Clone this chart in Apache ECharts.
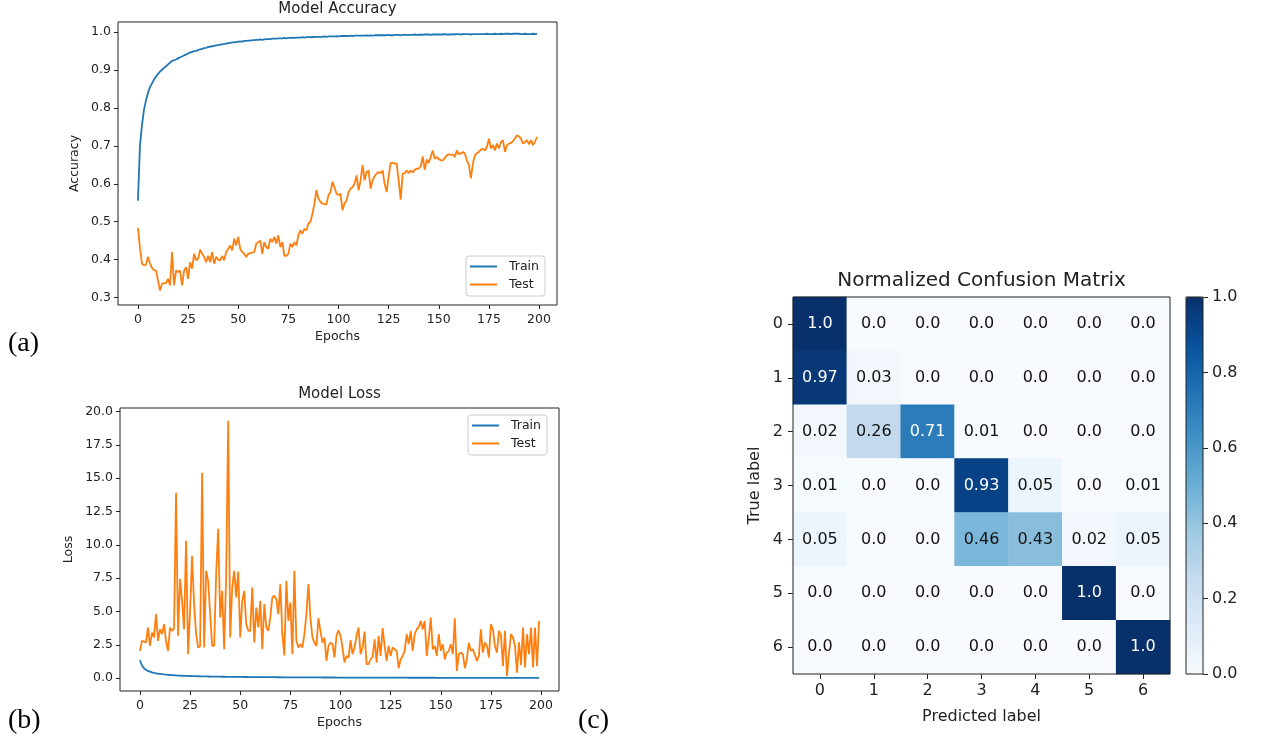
<!DOCTYPE html>
<html>
<head>
<meta charset="utf-8">
<script src="https://cdn.jsdelivr.net/npm/echarts@6/dist/echarts.min.js"></script>
<style>
  html, body { margin: 0; padding: 0; background: #fff; }
  #chart { width: 1271px; height: 748px; }
</style>
</head>
<body>
<div id="chart"></div>
<script>
// ---- training history (one value per epoch, 0..199) ----
const accTrain = [
  0.555,0.70,0.755,0.795,0.82,0.84,0.855,0.865,0.875,0.883,
  0.89,0.896,0.901,0.906,0.91,0.915,0.92,0.924,0.926,0.928,
  0.931,0.934,0.936,0.939,0.941,0.944,0.946,0.948,0.95,0.951,
  0.953,0.955,0.956,0.958,0.959,0.961,0.962,0.963,0.964,0.965,
  0.966,0.967,0.968,0.969,0.97,0.971,0.972,0.973,0.973,0.974,
  0.975,0.976,0.975,0.977,0.977,0.978,0.978,0.979,0.979,0.98,
  0.98,0.981,0.98,0.981,0.982,0.982,0.982,0.983,0.983,0.983,
  0.984,0.984,0.984,0.985,0.984,0.985,0.985,0.986,0.985,0.986,
  0.986,0.986,0.987,0.986,0.987,0.987,0.987,0.988,0.987,0.988,
  0.988,0.988,0.988,0.989,0.988,0.989,0.989,0.989,0.989,0.99,
  0.989,0.99,0.99,0.99,0.99,0.99,0.991,0.99,0.991,0.991,
  0.991,0.991,0.991,0.991,0.992,0.991,0.992,0.991,0.992,0.992,
  0.992,0.992,0.992,0.992,0.992,0.993,0.992,0.992,0.993,0.993,
  0.993,0.992,0.993,0.993,0.993,0.993,0.993,0.993,0.994,0.993,
  0.993,0.994,0.993,0.994,0.994,0.994,0.993,0.994,0.994,0.994,
  0.994,0.994,0.994,0.995,0.994,0.994,0.994,0.995,0.994,0.995,
  0.995,0.994,0.995,0.995,0.995,0.995,0.994,0.995,0.995,0.995,
  0.995,0.995,0.995,0.995,0.996,0.995,0.995,0.995,0.996,0.995,
  0.995,0.996,0.995,0.996,0.996,0.996,0.995,0.996,0.996,0.996,
  0.996,0.995,0.995,0.996,0.995,0.995,0.995,0.996,0.995,0.996
];
const accTest = [
  0.484,0.43,0.39,0.385,0.386,0.407,0.39,0.378,0.372,0.371,
  0.345,0.318,0.336,0.338,0.338,0.349,0.332,0.42,0.332,0.371,
  0.367,0.371,0.332,0.371,0.38,0.349,0.393,0.376,0.415,0.398,
  0.402,0.426,0.415,0.407,0.393,0.41,0.393,0.42,0.389,0.407,
  0.4,0.398,0.41,0.398,0.42,0.428,0.437,0.424,0.455,0.437,
  0.46,0.428,0.42,0.415,0.407,0.415,0.417,0.418,0.42,0.442,
  0.446,0.45,0.415,0.446,0.433,0.428,0.455,0.446,0.46,0.442,
  0.464,0.433,0.446,0.41,0.41,0.415,0.442,0.433,0.446,0.437,
  0.464,0.477,0.468,0.481,0.477,0.495,0.499,0.521,0.547,0.583,
  0.561,0.552,0.548,0.546,0.546,0.57,0.578,0.605,0.59,0.574,
  0.57,0.574,0.53,0.548,0.556,0.578,0.587,0.591,0.6,0.622,
  0.583,0.609,0.649,0.609,0.631,0.635,0.587,0.609,0.62,0.627,
  0.631,0.628,0.635,0.6,0.578,0.618,0.655,0.655,0.653,0.653,
  0.609,0.558,0.627,0.628,0.635,0.628,0.635,0.63,0.637,0.64,
  0.64,0.646,0.672,0.637,0.664,0.655,0.671,0.688,0.666,0.671,
  0.665,0.662,0.662,0.668,0.675,0.678,0.676,0.678,0.671,0.688,
  0.678,0.68,0.684,0.68,0.662,0.65,0.614,0.653,0.675,0.681,
  0.684,0.69,0.693,0.688,0.697,0.719,0.693,0.702,0.688,0.706,
  0.693,0.71,0.715,0.684,0.702,0.706,0.708,0.712,0.72,0.728,
  0.725,0.719,0.706,0.71,0.715,0.704,0.715,0.702,0.712,0.724
];
const lossTrain = [
  1.35,0.95,0.75,0.63,0.55,0.49,0.44,0.40,0.37,0.34,
  0.32,0.30,0.28,0.27,0.25,0.24,0.23,0.22,0.21,0.20,
  0.19,0.185,0.18,0.175,0.17,0.165,0.16,0.155,0.15,0.145,
  0.14,0.138,0.135,0.13,0.128,0.125,0.122,0.12,0.118,0.115,
  0.113,0.11,0.108,0.106,0.104,0.102,0.1,0.098,0.096,0.095,
  0.093,0.092,0.09,0.089,0.087,0.086,0.085,0.083,0.082,0.081,
  0.08,0.079,0.078,0.077,0.076,0.075,0.074,0.073,0.072,0.071,
  0.07,0.069,0.068,0.067,0.066,0.066,0.065,0.064,0.063,0.063,
  0.062,0.061,0.06,0.06,0.059,0.058,0.058,0.057,0.056,0.056,
  0.055,0.054,0.054,0.053,0.053,0.052,0.051,0.051,0.05,0.05,
  0.049,0.049,0.048,0.048,0.047,0.047,0.046,0.046,0.045,0.045,
  0.044,0.044,0.043,0.043,0.043,0.042,0.042,0.041,0.041,0.041,
  0.04,0.04,0.04,0.039,0.039,0.038,0.038,0.038,0.037,0.037,
  0.037,0.036,0.036,0.036,0.035,0.035,0.035,0.034,0.034,0.034,
  0.034,0.033,0.033,0.033,0.032,0.032,0.032,0.032,0.031,0.031,
  0.031,0.031,0.03,0.03,0.03,0.03,0.029,0.029,0.029,0.029,
  0.028,0.028,0.028,0.028,0.028,0.027,0.027,0.027,0.027,0.026,
  0.026,0.026,0.026,0.026,0.025,0.025,0.025,0.025,0.025,0.024,
  0.024,0.024,0.024,0.024,0.024,0.023,0.023,0.023,0.023,0.023,
  0.022,0.022,0.022,0.022,0.022,0.022,0.021,0.021,0.021,0.021
];
const lossTest = [
  2.05,2.8,2.75,2.67,3.8,2.42,3.42,3.05,4.8,2.8,
  3.67,3.3,4.05,2.8,2.05,3.8,3.55,3.72,13.9,3.18,
  7.43,5.8,3.68,10.3,1.8,5.05,9.18,5.55,3.3,2.3,
  2.42,15.4,2.3,8.05,7.3,4.8,2.42,2.42,7.8,11.2,
  4.55,6.55,2.18,7.8,19.3,3.05,6.8,8.05,6.05,8.0,
  3.05,5.8,6.55,4.05,3.55,3.55,6.8,2.67,5.3,3.8,
  5.8,2.18,5.55,3.8,3.55,4.55,6.05,6.18,5.92,4.8,
  7.05,3.3,1.7,7.3,4.3,5.67,1.8,8.05,2.8,2.3,
  2.55,2.3,3.3,4.8,7.05,4.55,3.05,2.67,2.42,4.5,
  3.55,2.67,3.05,1.3,2.42,2.67,2.55,1.55,3.17,3.6,
  3.17,2.3,1.17,1.67,1.55,2.85,1.8,2.3,3.17,3.8,
  1.8,2.3,3.5,1.05,1.05,1.42,1.6,2.92,1.17,3.17,
  1.67,3.75,2.42,1.3,2.42,1.67,2.3,2.17,2.05,0.75,
  1.42,1.67,2.05,3.3,2.55,3.55,2.05,3.3,3.67,3.8,
  4.3,3.67,4.3,1.67,2.92,4.55,2.17,2.42,1.67,3.3,
  2.05,2.55,1.42,1.92,2.05,2.55,1.8,4.5,0.55,1.8,
  1.92,1.8,0.75,1.42,2.67,2.05,2.17,1.75,1.3,1.67,
  3.67,1.92,2.67,2.42,1.55,4.05,3.67,2.42,1.92,3.55,
  3.17,0.92,3.55,0.17,1.8,3.3,3.05,2.42,0.42,2.7,
  1.0,3.8,0.8,3.3,1.8,3.8,0.8,3.8,0.9,4.3
];

// ---- tick labels ----
const epochTicks = [0, 25, 50, 75, 100, 125, 150, 175, 200];
const accTicks = [0.3, 0.4, 0.5, 0.6, 0.7, 0.8, 0.9, 1.0];
const lossTicks = [0, 2.5, 5, 7.5, 10, 12.5, 15, 17.5, 20];
const colorbarTicks = [0, 0.2, 0.4, 0.6, 0.8, 1.0];

// ---- normalized confusion matrix (rows: true label, cols: predicted) ----
const classLabels = ['0', '1', '2', '3', '4', '5', '6'];
const confusion = [
  [1.0, 0.0, 0.0, 0.0, 0.0, 0.0, 0.0],
  [0.97, 0.03, 0.0, 0.0, 0.0, 0.0, 0.0],
  [0.02, 0.26, 0.71, 0.01, 0.0, 0.0, 0.0],
  [0.01, 0.0, 0.0, 0.93, 0.05, 0.0, 0.01],
  [0.05, 0.0, 0.0, 0.46, 0.43, 0.02, 0.05],
  [0.0, 0.0, 0.0, 0.0, 0.0, 1.0, 0.0],
  [0.0, 0.0, 0.0, 0.0, 0.0, 0.0, 1.0]
];

// matplotlib "Blues" colormap stops
const blues = ['#f7fbff', '#deebf7', '#c6dbef', '#9ecae1', '#6baed6',
               '#4292c6', '#2171b5', '#08519c', '#08306b'];

const BLUE = '#1f77b4', ORANGE = '#ff7f0e';
const SANS = 'DejaVu Sans';
const INK = '#222';

// layout
const ACC = { left: 118, top: 22, width: 439, height: 283 };
const LOSS = { left: 120, top: 408, width: 439, height: 283 };
const CM = { left: 793, top: 297, width: 377, height: 377 };
const CB = { left: 1186, top: 297, width: 17, height: 377 };

const chart = echarts.init(document.getElementById('chart'), null, { renderer: 'canvas' });

function epochAxis(gridIndex) {
  return {
    type: 'value', gridIndex, min: -9.95, max: 208.95,
    name: 'Epochs', nameLocation: 'middle', nameGap: 25,
    nameTextStyle: { fontFamily: SANS, fontSize: 12.5, color: INK },
    axisLine: { show: false, onZero: false },
    axisTick: { show: true, length: 4, lineStyle: { color: '#222' }, customValues: epochTicks },
    axisLabel: { customValues: epochTicks, margin: 8, fontFamily: SANS, fontSize: 12.5, color: INK },
    splitLine: { show: false }
  };
}
function valueAxis(gridIndex, name, min, max, ticks, nameGap) {
  return {
    type: 'value', gridIndex, min, max,
    name, nameLocation: 'middle', nameGap, nameRotate: 90,
    nameTextStyle: { fontFamily: SANS, fontSize: 12.5, color: INK },
    axisLine: { show: false, onZero: false },
    axisTick: { show: true, length: 4, lineStyle: { color: '#222' }, customValues: ticks },
    axisLabel: {
      customValues: ticks, margin: 7, fontFamily: SANS, fontSize: 12.5, color: INK,
      formatter: v => Number(v).toFixed(1)
    },
    splitLine: { show: false }
  };
}
function lineSeries(name, data, color, axisIndex) {
  return {
    type: 'line', name, xAxisIndex: axisIndex, yAxisIndex: axisIndex,
    data: data.map((v, i) => [i, v]),
    showSymbol: false, symbol: 'none',
    lineStyle: { color, width: 1.8 }, itemStyle: { color },
    emphasis: { disabled: true }
  };
}
function legendAt(left, top) {
  return {
    left, top, orient: 'vertical', icon: 'rect', itemWidth: 27, itemHeight: 2, itemGap: 5,
    padding: [4, 6, 5, 4], backgroundColor: 'rgba(255,255,255,0.8)',
    borderColor: '#cccccc', borderWidth: 1, borderRadius: 3,
    textStyle: { fontFamily: SANS, fontSize: 12.5, color: INK, padding: [0, 0, 0, 7] },
    data: ['Train', 'Test'], selectedMode: false
  };
}
const cellText = v => (Number.isInteger(v) ? v.toFixed(1) : String(v));

const heatData = [];
confusion.forEach((row, r) => row.forEach((v, c) => heatData.push([c, r, v])));

const gridFrame = { show: true, borderColor: '#222', borderWidth: 1, backgroundColor: 'transparent' };

const option = {
  animation: false,
  backgroundColor: '#fff',
  title: [
    { text: 'Model Accuracy', left: ACC.left + ACC.width / 2, top: 2, textAlign: 'center', padding: 0,
      textStyle: { fontFamily: SANS, fontSize: 15, fontWeight: 'normal', color: INK } },
    { text: 'Model Loss', left: LOSS.left + LOSS.width / 2, top: 387, textAlign: 'center', padding: 0,
      textStyle: { fontFamily: SANS, fontSize: 15, fontWeight: 'normal', color: INK } },
    { text: 'Normalized Confusion Matrix', left: CM.left + CM.width / 2, top: 271, textAlign: 'center', padding: 0,
      textStyle: { fontFamily: SANS, fontSize: 20, fontWeight: 'normal', color: INK } },
    { text: '(a)', left: 8, top: 330, padding: 0,
      textStyle: { fontFamily: 'Liberation Serif', fontSize: 28, fontWeight: 'normal', color: '#000' } },
    { text: '(b)', left: 8, top: 707, padding: 0,
      textStyle: { fontFamily: 'Liberation Serif', fontSize: 28, fontWeight: 'normal', color: '#000' } },
    { text: '(c)', left: 578, top: 707, padding: 0,
      textStyle: { fontFamily: 'Liberation Serif', fontSize: 28, fontWeight: 'normal', color: '#000' } }
  ],
  legend: [legendAt(466, 256), legendAt(468, 415)],
  grid: [
    Object.assign({}, ACC, gridFrame),
    Object.assign({}, LOSS, gridFrame),
    Object.assign({}, CM, { show: false }),
    Object.assign({}, CB, { show: false })
  ],
  xAxis: [
    epochAxis(0),
    epochAxis(1),
    {
      type: 'category', gridIndex: 2, data: classLabels,
      name: 'Predicted label', nameLocation: 'middle', nameGap: 35,
      nameTextStyle: { fontFamily: SANS, fontSize: 16, color: INK },
      axisLine: { show: false, onZero: false },
      axisTick: { show: true, alignWithLabel: true, length: 5, lineStyle: { color: '#222' } },
      axisLabel: { margin: 9, fontFamily: SANS, fontSize: 16, color: INK },
      splitLine: { show: false }, splitArea: { show: false }
    },
    { type: 'value', gridIndex: 3, show: false, min: 0, max: 1 }
  ],
  yAxis: [
    valueAxis(0, 'Accuracy', 0.28, 1.027, accTicks, 37),
    valueAxis(1, 'Loss', -0.96, 20.26, lossTicks, 45),
    {
      type: 'category', gridIndex: 2, data: classLabels, inverse: true,
      name: 'True label', nameLocation: 'middle', nameGap: 30, nameRotate: 90,
      nameTextStyle: { fontFamily: SANS, fontSize: 16, color: INK },
      axisLine: { show: false, onZero: false },
      axisTick: { show: true, alignWithLabel: true, length: 5, lineStyle: { color: '#222' } },
      axisLabel: { margin: 10, fontFamily: SANS, fontSize: 16, color: INK },
      splitLine: { show: false }, splitArea: { show: false }
    },
    {
      type: 'value', gridIndex: 3, min: 0, max: 1, position: 'right',
      axisLine: { show: false, onZero: false },
      axisTick: { show: true, length: 5, lineStyle: { color: '#222' }, customValues: colorbarTicks },
      axisLabel: {
        customValues: colorbarTicks, margin: 9, fontFamily: SANS, fontSize: 16, color: INK,
        formatter: v => Number(v).toFixed(1)
      },
      splitLine: { show: false }
    }
  ],
  visualMap: {
    type: 'continuous', seriesIndex: 4, min: 0, max: 1,
    orient: 'vertical', left: CB.left, top: CB.top, padding: 0,
    itemWidth: CB.width, itemHeight: CB.height,
    calculable: false, hoverLink: false, text: null,
    inRange: { color: blues }
  },
  series: [
    lineSeries('Train', accTrain, BLUE, 0),
    lineSeries('Test', accTest, ORANGE, 0),
    lineSeries('Train', lossTrain, BLUE, 1),
    lineSeries('Test', lossTest, ORANGE, 1),
    {
      type: 'heatmap', xAxisIndex: 2, yAxisIndex: 2, data: heatData,
      itemStyle: { borderWidth: 0 },
      emphasis: { disabled: true },
      label: {
        show: true,
        formatter: p => '{' + (p.value[2] > 0.5 ? 'w' : 'k') + '|' + cellText(p.value[2]) + '}',
        rich: {
          w: { color: '#fff', fontFamily: SANS, fontSize: 16 },
          k: { color: '#111', fontFamily: SANS, fontSize: 16 }
        }
      }
    }
  ],
  graphic: [
    { type: 'rect', z: 100, silent: true,
      shape: { x: CM.left, y: CM.top, width: CM.width, height: CM.height },
      style: { fill: 'none', stroke: '#222', lineWidth: 1 } },
    { type: 'rect', z: 100, silent: true,
      shape: { x: CB.left, y: CB.top, width: CB.width, height: CB.height },
      style: { fill: 'none', stroke: '#222', lineWidth: 1 } }
  ]
};

chart.setOption(option);
</script>
</body>
</html>
